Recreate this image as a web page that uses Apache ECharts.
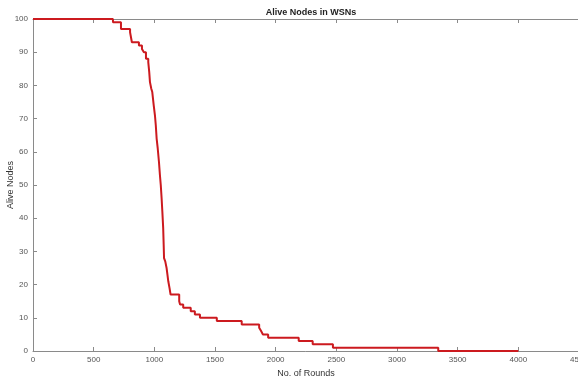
<!DOCTYPE html>
<html>
<head>
<meta charset="utf-8">
<script src="https://cdn.jsdelivr.net/npm/echarts@6/dist/echarts.min.js"></script>
<style>
  html, body { margin: 0; padding: 0; background: #fff; }
  #chart { width: 578px; height: 378px; }
</style>
</head>
<body>
<div id="chart"></div>
<script>
// round at which the alive count changes, and the count from that round on
const rounds = [0, 659, 725, 800, 815, 873, 898, 914, 931, 950, 958, 964, 975, 983, 995,
  1005, 1012, 1019, 1028, 1038, 1046, 1053, 1060, 1066, 1073, 1077, 1080, 1090, 1101,
  1108, 1115, 1125, 1134, 1205, 1212, 1238, 1300, 1334, 1376, 1515, 1720, 1864, 1880,
  1895, 1938, 2190, 2305, 2472, 3340, 4000];
const alive = [100, 99, 97, 96, 93, 92, 91, 90, 88, 87, 84, 81, 79, 78, 74,
  71, 68, 64, 61, 57, 53, 50, 46, 42, 37, 32, 28, 27, 25,
  23, 21, 19, 17, 15, 14, 13, 12, 11, 10, 9, 8, 7, 6,
  5, 4, 3, 2, 1, 0, 0];
const xTicks = [0, 500, 1000, 1500, 2000, 2500, 3000, 3500, 4000, 4500];
const yTicks = [0, 10, 20, 30, 40, 50, 60, 70, 80, 90, 100];

const points = rounds.map((r, i) => [r, alive[i]]);

const chart = echarts.init(document.getElementById('chart'));

const axisGray = '#8a8a8a';
const labelGray = '#555';
const plain = v => String(v);

chart.setOption({
  animation: false,
  title: {
    text: 'Alive Nodes in WSNs',
    left: 306,
    top: 3,
    textAlign: 'center',
    textStyle: { fontFamily: 'Liberation Sans', fontSize: 9, fontWeight: 'bold', color: '#222' }
  },
  grid: { left: 33, right: -1, top: 19, bottom: 27, containLabel: false, outerBoundsMode: 'none' },
  xAxis: [
    {
      type: 'value',
      min: xTicks[0],
      max: xTicks[xTicks.length - 1],
      interval: 500,
      name: 'No. of Rounds',
      nameLocation: 'middle',
      nameGap: 18,
      nameMoveOverlap: false,
      nameTextStyle: { fontFamily: 'Liberation Sans', fontSize: 9, color: '#333' },
      axisLine: { show: true, lineStyle: { color: axisGray, width: 1 } },
      axisTick: { show: true, inside: true, length: 4, lineStyle: { color: axisGray } },
      axisLabel: { fontFamily: 'Liberation Sans', fontSize: 8, color: labelGray, margin: 5, formatter: plain },
      splitLine: { show: false }
    },
    {
      type: 'value',
      position: 'top',
      min: xTicks[0],
      max: xTicks[xTicks.length - 1],
      interval: 500,
      axisLine: { show: true, lineStyle: { color: axisGray, width: 1 } },
      axisTick: { show: true, inside: true, length: 4, lineStyle: { color: axisGray } },
      axisLabel: { show: false },
      splitLine: { show: false }
    }
  ],
  yAxis: {
    type: 'value',
    min: yTicks[0],
    max: yTicks[yTicks.length - 1],
    interval: 10,
    name: 'Alive Nodes',
    nameLocation: 'middle',
    nameGap: 18,
    nameMoveOverlap: false,
    nameTextStyle: { fontFamily: 'Liberation Sans', fontSize: 9, color: '#333' },
    axisLine: { show: true, lineStyle: { color: axisGray, width: 1 } },
    axisTick: { show: true, inside: true, length: 4, lineStyle: { color: axisGray } },
    axisLabel: { fontFamily: 'Liberation Sans', fontSize: 8, color: labelGray, margin: 5, formatter: plain },
    splitLine: { show: false }
  },
  series: [{
    type: 'line',
    step: 'end',
    data: points,
    symbol: 'none',
    lineStyle: { color: '#cc1a1f', width: 2 }
  }]
});
</script>
</body>
</html>
